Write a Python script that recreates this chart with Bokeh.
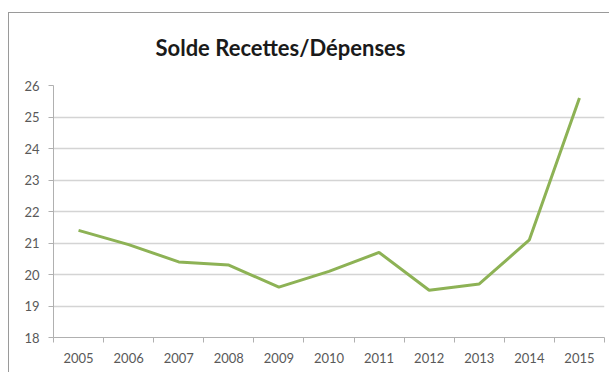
from bokeh.plotting import figure
from bokeh.models import Range1d, FixedTicker, Title
from bokeh.embed import file_html
from bokeh.resources import INLINE

years = ["2005", "2006", "2007", "2008", "2009", "2010", "2011", "2012", "2013", "2014", "2015"]
solde = [21.4, 20.95, 20.4, 20.3, 19.6, 20.1, 20.7, 19.5, 19.7, 21.1, 25.6]
y_ticks = [18, 19, 20, 21, 22, 23, 24, 25, 26]
chart_title = "Solde Recettes/Dépenses"

xs = [i + 0.5 for i in range(len(years))]

p = figure(width=601, height=360, output_backend="svg", toolbar_location=None, title=None,
           x_range=Range1d(0, len(years)), y_range=Range1d(18, 26),
           min_border_left=44, min_border_right=6, min_border_top=72, min_border_bottom=36,
           background_fill_color="white", border_fill_color="white")
p.styles = {"margin-left": "8px", "margin-top": "12px",
            "border-left": "1px solid #9a9a9a", "border-top": "1px solid #9a9a9a"}

spacer = Title(text=" ", text_font_size="6px", standoff=0)
p.add_layout(spacer, "above")
main_title = Title(text=chart_title, align="left", offset=102,
                   text_font="Lato", text_font_size="22px", text_font_style="bold",
                   text_color="#1a1a1a", standoff=34)
p.add_layout(main_title, "above")

p.line(xs, solde, line_color="#8DB255", line_width=3)

p.outline_line_color = None
p.xgrid.grid_line_color = None
p.ygrid.grid_line_color = "#d4d4d4"
p.ygrid.grid_line_width = 1.5
p.ygrid.ticker = FixedTicker(ticks=y_ticks)

p.yaxis.ticker = FixedTicker(ticks=y_ticks)
p.yaxis.axis_line_color = "#b0b0b0"
p.yaxis.major_tick_line_color = "#b0b0b0"
p.yaxis.major_tick_out = 5
p.yaxis.major_tick_in = 0
p.yaxis.minor_tick_line_color = None
p.yaxis.major_label_text_font = "Lato"
p.yaxis.major_label_text_font_size = "13px"
p.yaxis.major_label_text_color = "#595959"
p.yaxis.major_label_standoff = 9

p.xaxis.ticker = FixedTicker(ticks=xs, minor_ticks=list(range(len(years) + 1)))
p.xaxis.major_label_overrides = {x: y for x, y in zip(xs, years)}
p.xaxis.axis_line_color = "#b0b0b0"
p.xaxis.major_tick_line_color = None
p.xaxis.minor_tick_line_color = "#b0b0b0"
p.xaxis.minor_tick_out = 5
p.xaxis.minor_tick_in = 0
p.xaxis.major_label_text_font = "Lato"
p.xaxis.major_label_text_font_size = "13px"
p.xaxis.major_label_text_color = "#595959"
p.xaxis.major_label_standoff = 9

open("out.html", "w").write(file_html(p, INLINE))
